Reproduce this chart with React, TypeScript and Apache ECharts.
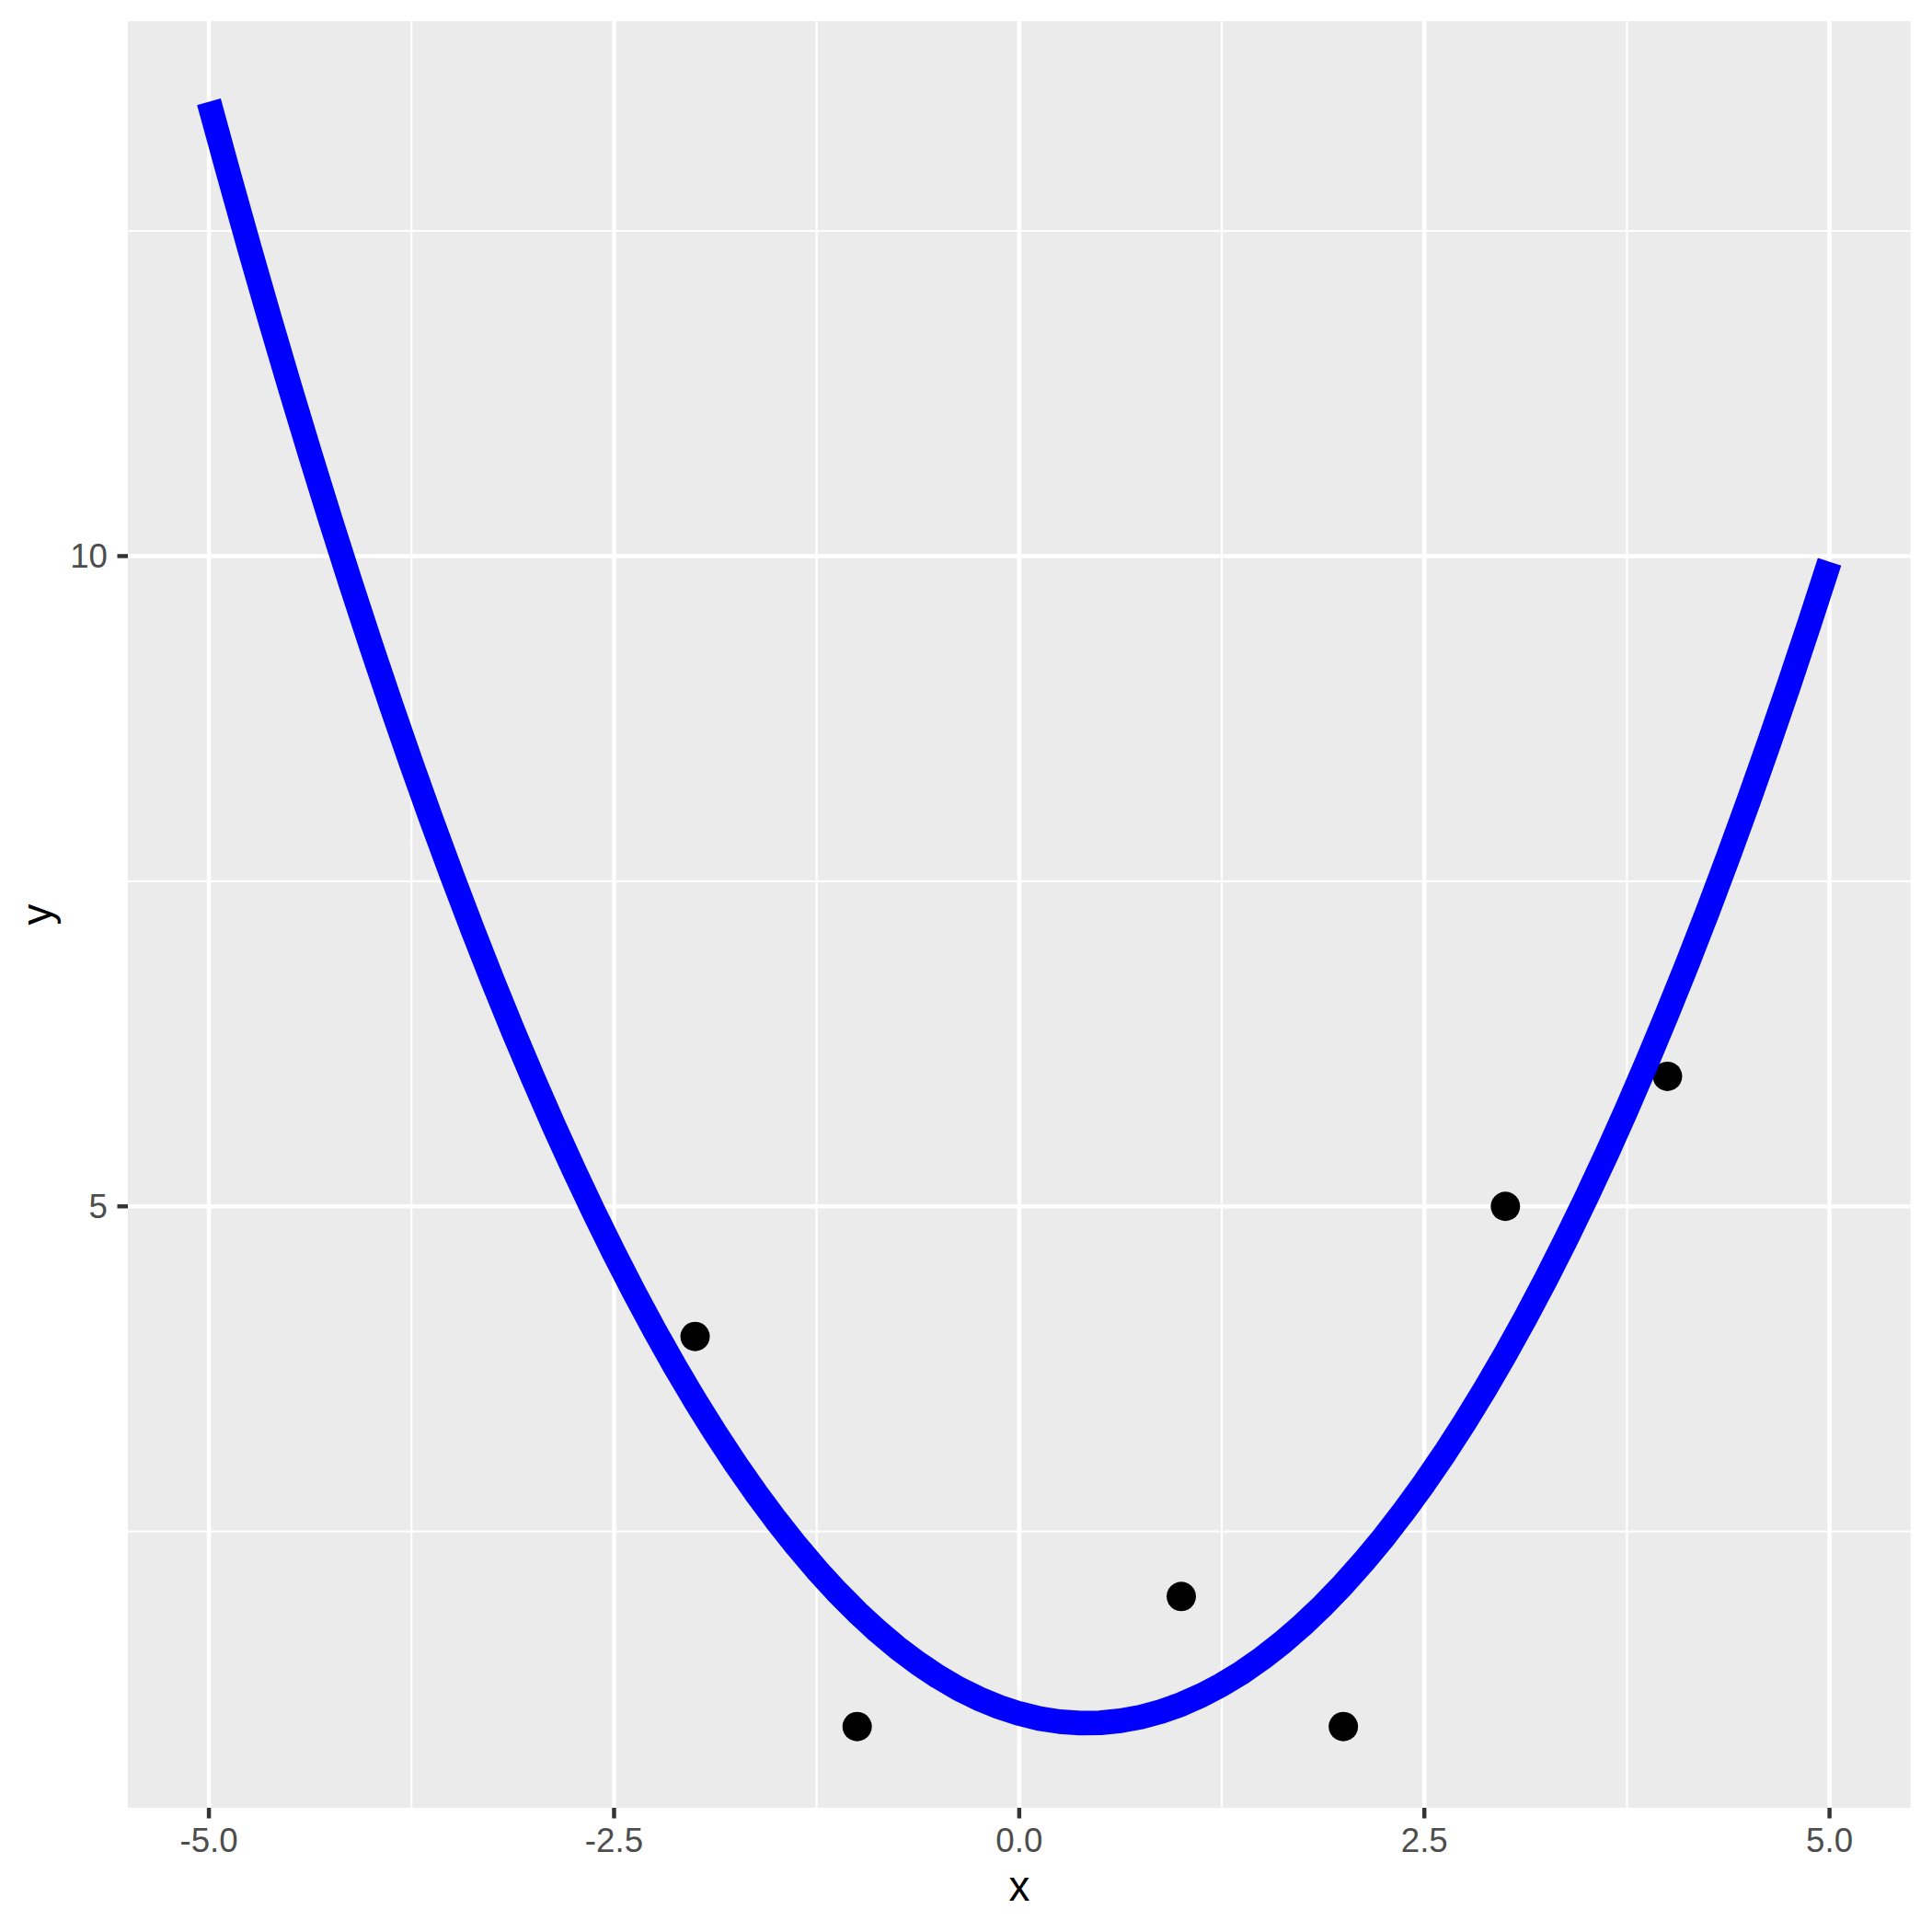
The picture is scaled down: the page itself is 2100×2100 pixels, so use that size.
import React, { useEffect, useRef } from "react";
import * as echarts from "echarts";

// Observed points
const pointX = [-2, -1, 1, 2, 3, 4];
const pointY = [4, 1, 2, 1, 5, 6];

// Fitted curve, every 0.125
const curveX = [
  -5, -4.875, -4.75, -4.625, -4.5, -4.375, -4.25, -4.125, -4, -3.875, -3.75, -3.625, -3.5, -3.375, -3.25,
  -3.125, -3, -2.875, -2.75, -2.625, -2.5, -2.375, -2.25, -2.125, -2, -1.875, -1.75, -1.625, -1.5, -1.375,
  -1.25, -1.125, -1, -0.875, -0.75, -0.625, -0.5, -0.375, -0.25, -0.125, 0, 0.125, 0.25, 0.375, 0.5, 0.625,
  0.75, 0.875, 1, 1.125, 1.25, 1.375, 1.5, 1.625, 1.75, 1.875, 2, 2.125, 2.25, 2.375, 2.5, 2.625, 2.75,
  2.875, 3, 3.125, 3.25, 3.375, 3.5, 3.625, 3.75, 3.875, 4, 4.125, 4.25, 4.375, 4.5, 4.625, 4.75, 4.875, 5,
];
const curveY = [
  13.493, 12.924, 12.369, 11.826, 11.297, 10.782, 10.279, 9.79, 9.314, 8.852, 8.402, 7.966, 7.544, 7.134,
  6.738, 6.355, 5.986, 5.629, 5.286, 4.957, 4.64, 4.337, 4.047, 3.77, 3.507, 3.257, 3.02, 2.797, 2.587,
  2.39, 2.206, 2.036, 1.879, 1.735, 1.604, 1.487, 1.383, 1.292, 1.215, 1.151, 1.1, 1.062, 1.038, 1.027,
  1.029, 1.045, 1.074, 1.116, 1.171, 1.24, 1.322, 1.417, 1.526, 1.648, 1.783, 1.931, 2.093, 2.268, 2.456,
  2.658, 2.872, 3.1, 3.342, 3.596, 3.864, 4.145, 4.44, 4.748, 5.069, 5.403, 5.751, 6.112, 6.486, 6.873,
  7.274, 7.688, 8.115, 8.556, 9.01, 9.477, 9.957,
];

// Axis ticks / gridlines
const xMajor = [-5, -2.5, 0, 2.5, 5];
const xMinor = [-3.75, -1.25, 1.25, 3.75];
const yMajor = [5, 10];
const yMinor = [2.5, 7.5, 12.5];

const X_MIN = -5.5;
const X_MAX = 5.5;
const Y_MIN = 0.3756;
const Y_MAX = 14.113;

export default function App() {
  const ref = useRef<HTMLDivElement>(null);

  useEffect(() => {
    document.body.style.margin = "0";
    const chart = echarts.init(ref.current!, null, { renderer: "svg" });

    // [x, y, kind, major]; kind: 0 vertical grid, 1 horizontal grid, 2 x tick, 3 y tick
    const gridData: number[][] = [];
    xMinor.forEach((v) => gridData.push([v, Y_MIN, 0, 0]));
    yMinor.forEach((v) => gridData.push([X_MIN, v, 1, 0]));
    xMajor.forEach((v) => gridData.push([v, Y_MIN, 0, 1]));
    yMajor.forEach((v) => gridData.push([X_MIN, v, 1, 1]));
    xMajor.forEach((v) => gridData.push([v, Y_MIN, 2, 1]));
    yMajor.forEach((v) => gridData.push([X_MIN, v, 3, 1]));

    const font = "Liberation Sans";
    const TICK = 11.5;

    chart.setOption({
      animation: false,
      backgroundColor: "#FFFFFF",
      textStyle: { fontFamily: font },
      grid: {
        show: true,
        left: 139,
        top: 23,
        right: 23.3,
        bottom: 135,
        backgroundColor: "#EBEBEB",
        borderWidth: 0,
        containLabel: false,
        outerBoundsMode: "none",
      },
      xAxis: {
        type: "value",
        min: X_MIN,
        max: X_MAX,
        name: "x",
        nameLocation: "middle",
        nameGap: 62,
        nameTextStyle: { fontSize: 45.8, color: "#000000", fontFamily: font },
        axisLine: { show: false, onZero: false },
        splitLine: { show: false },
        axisTick: { show: false },
        axisLabel: {
          show: true,
          customValues: xMajor,
          formatter: (v: number) => v.toFixed(1),
          fontSize: 36.7,
          color: "#4D4D4D",
          margin: 17,
          fontFamily: font,
        },
      },
      yAxis: {
        type: "value",
        min: Y_MIN,
        max: Y_MAX,
        name: "y",
        nameLocation: "middle",
        nameGap: 76,
        nameRotate: 90,
        nameTextStyle: { fontSize: 45.8, color: "#000000", fontFamily: font },
        axisLine: { show: false, onZero: false },
        splitLine: { show: false },
        axisTick: { show: false },
        axisLabel: {
          show: true,
          customValues: yMajor,
          formatter: (v: number) => String(v),
          fontSize: 36.7,
          color: "#4D4D4D",
          margin: 22,
          fontFamily: font,
        },
      },
      series: [
        {
          type: "custom",
          z: 1,
          silent: true,
          clip: false,
          data: gridData,
          encode: { x: 0, y: 1 },
          renderItem: (params: any, api: any) => {
            const cs = params.coordSys;
            const p = api.coord([api.value(0), api.value(1)]);
            const kind = api.value(2);
            const major = api.value(3) === 1;
            let shape;
            let stroke = "#FFFFFF";
            if (kind === 0) {
              shape = { x1: p[0], y1: cs.y, x2: p[0], y2: cs.y + cs.height };
            } else if (kind === 1) {
              shape = { x1: cs.x, y1: p[1], x2: cs.x + cs.width, y2: p[1] };
            } else if (kind === 2) {
              stroke = "#333333";
              shape = { x1: p[0], y1: cs.y + cs.height, x2: p[0], y2: cs.y + cs.height + TICK };
            } else {
              stroke = "#333333";
              shape = { x1: cs.x - TICK, y1: p[1], x2: cs.x, y2: p[1] };
            }
            return {
              type: "line",
              shape,
              style: { stroke, lineWidth: major ? 4.45 : 2.2, lineCap: "butt" },
            };
          },
        },
        {
          type: "scatter",
          z: 2,
          symbol: "circle",
          symbolSize: 32,
          itemStyle: { color: "#000000", opacity: 1 },
          data: pointX.map((x, i) => [x, pointY[i]]),
        },
        {
          type: "line",
          z: 3,
          showSymbol: false,
          smooth: false,
          lineStyle: { color: "#0000FF", width: 26.7, cap: "butt", join: "round", opacity: 1 },
          data: curveX.map((x, i) => [x, curveY[i]]),
        },
      ],
    });

    return () => chart.dispose();
  }, []);

  return (
    <div
      ref={ref}
      style={{ position: "fixed", left: 0, top: 0, width: 2100, height: 2100 }}
    />
  );
}
